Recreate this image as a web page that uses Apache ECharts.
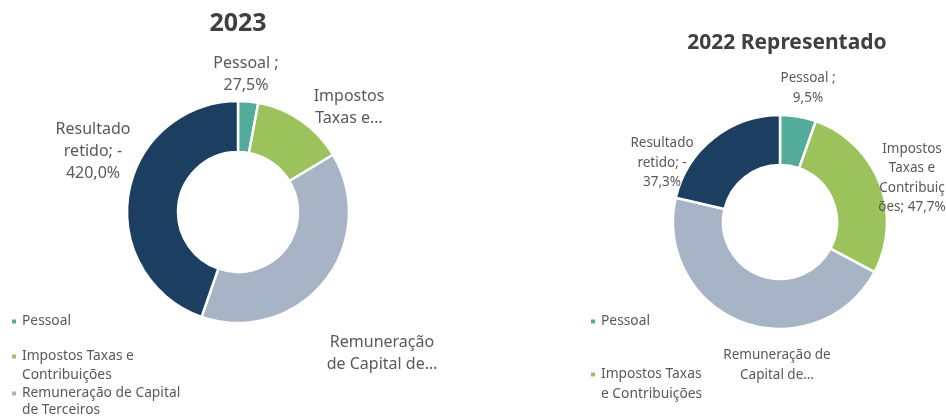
<!DOCTYPE html>
<html>
<head>
<meta charset="utf-8">
<script src="https://cdn.jsdelivr.net/npm/echarts@6/dist/echarts.min.js"></script>
<style>
  html, body { margin: 0; padding: 0; background: #fff; }
  #chart { width: 946px; height: 416px; }
</style>
</head>
<body>
<div id="chart"></div>
<script>
var categories = ['Pessoal', 'Impostos Taxas e Contribuições', 'Remuneração de Capital de Terceiros', 'Resultado retido'];
var values2023 = [27.5, 126.4, 366.1, -420.0];
var values2022 = [9.5, 47.7, 80.1, -37.3];
var labels2023 = ['Pessoal ;\n27,5%', 'Impostos\nTaxas e…', 'Remuneração\nde Capital de…', 'Resultado\nretido; -\n420,0%'];
var labels2022 = ['Pessoal ;\n9,5%', 'Impostos\nTaxas e\nContribuiç\nões; 47,7%', 'Remuneração de\nCapital de…', 'Resultado\nretido; -\n37,3%'];
var colors = ['#52ab9b', '#9cc35b', '#a6b4c6', '#1c3f61'];

// where Excel put the data labels
var labelPos = [
    [[246, 74], [349, 107], [382, 353], [93, 151]],
    [[808, 88], [912, 178], [777, 365], [662, 163]]
];

function toData(vals) {
    return vals.map(function (v, i) {
        return { name: categories[i], value: Math.abs(v), itemStyle: { color: colors[i] } };
    });
}

var chart = echarts.init(document.getElementById('chart'));
var txt = '#595959';
var font = 'Noto Sans';

// one legend line; wrapped lines get a hidden marker
function legendLine(name, left, top, label, hideIcon) {
    return {
        data: [name], orient: 'vertical', left: left, top: top, padding: 0,
        icon: 'rect', itemWidth: 6, itemHeight: 6, itemGap: 0,
        selectedMode: false,
        itemStyle: hideIcon ? { opacity: 0 } : {},
        formatter: function () { return label; },
        textStyle: { color: txt, fontFamily: font, fontSize: 13.8, lineHeight: 17 }
    };
}

var option = {
    animation: false,
    title: [
        { text: '2023', left: 238, top: 11, textAlign: 'center', padding: 0,
          textStyle: { fontFamily: font, fontSize: 25, fontWeight: 'bold', color: '#404040' } },
        { text: '2022 Representado', left: 787, top: 33, textAlign: 'center', padding: 0,
          textStyle: { fontFamily: font, fontSize: 21, fontWeight: 'bold', color: '#404040' } }
    ],
    legend: [
        legendLine(categories[0], 10, 313, 'Pessoal'),
        legendLine(categories[1], 10, 348, 'Impostos Taxas e'),
        legendLine(categories[1], 10, 367, 'Contribuições', true),
        legendLine(categories[2], 10, 385, 'Remuneração de Capital'),
        legendLine(categories[2], 10, 402, 'de Terceiros', true),
        legendLine(categories[0], 589, 313, 'Pessoal'),
        legendLine(categories[1], 589, 366, 'Impostos Taxas'),
        legendLine(categories[1], 589, 386, 'e Contribuições', true)
    ],
    series: [
        {
            type: 'pie', center: [238, 212], radius: [60, 111], startAngle: 90,
            data: toData(values2023),
            itemStyle: { borderColor: '#fff', borderWidth: 2.5 },
            label: {
                show: true, position: 'outside', overflow: 'none', color: txt,
                fontFamily: font, fontSize: 16, lineHeight: 22,
                formatter: function (p) { return labels2023[p.dataIndex]; }
            },
            labelLine: { show: false },
            labelLayout: function (p) {
                var pos = labelPos[0][p.dataIndex];
                return { x: pos[0], y: pos[1], align: 'center', verticalAlign: 'middle' };
            }
        },
        {
            type: 'pie', center: [780, 222], radius: [57, 107], startAngle: 90,
            data: toData(values2022),
            itemStyle: { borderColor: '#fff', borderWidth: 2.5 },
            label: {
                show: true, position: 'outside', overflow: 'none', color: txt,
                fontFamily: font, fontSize: 13.5, lineHeight: 19.5,
                formatter: function (p) { return labels2022[p.dataIndex]; }
            },
            labelLine: { show: false },
            labelLayout: function (p) {
                var pos = labelPos[1][p.dataIndex];
                return { x: pos[0], y: pos[1], align: 'center', verticalAlign: 'middle' };
            }
        }
    ]
};

chart.setOption(option);
</script>
</body>
</html>
